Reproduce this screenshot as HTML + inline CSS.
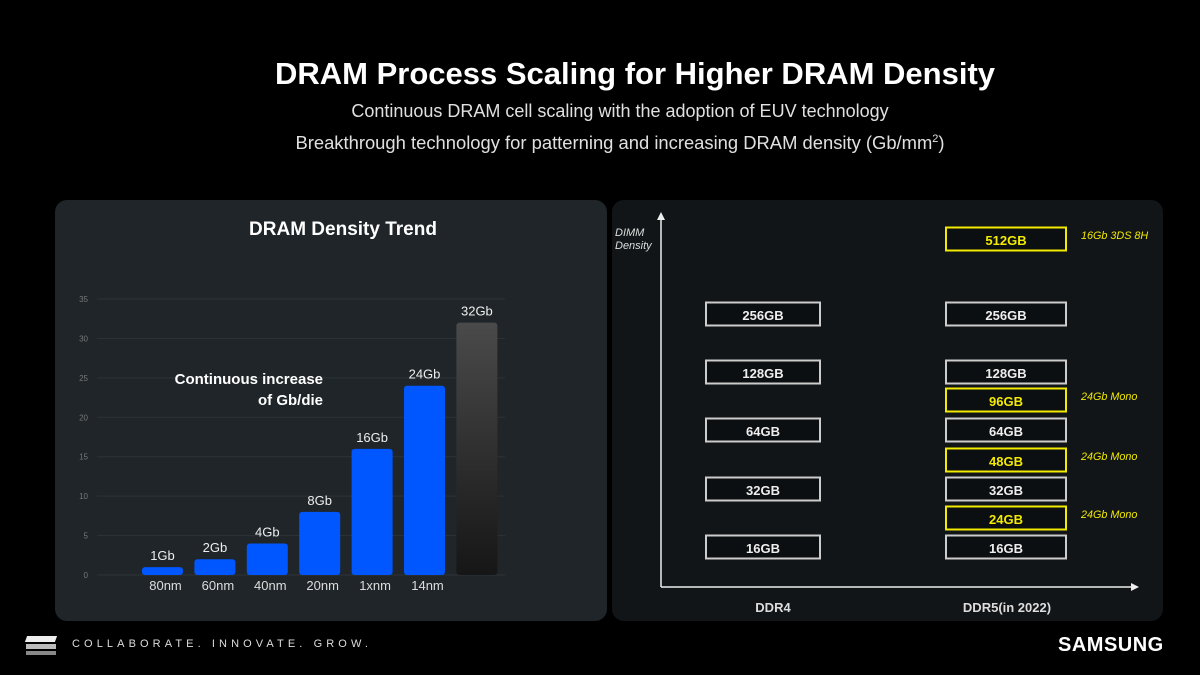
<!DOCTYPE html>
<html><head><meta charset="utf-8"><style>
html,body{margin:0;padding:0;background:#000;}
body{width:1200px;height:675px;position:relative;overflow:hidden;font-family:"Liberation Sans",sans-serif;color:#fff;}
.abs{position:absolute;}
</style></head><body>
<div class="abs" style="left:0;width:1270px;top:56px;text-align:center;font-size:31px;font-weight:bold;">DRAM Process Scaling for Higher DRAM Density</div>
<div class="abs" style="left:0;width:1240px;top:101px;text-align:center;font-size:18px;color:#e0e0e0;">Continuous DRAM cell scaling with the adoption of EUV technology</div>
<div class="abs" style="left:0;width:1240px;top:132px;text-align:center;font-size:18.4px;color:#e0e0e0;">Breakthrough technology for patterning and increasing DRAM density (Gb/mm<sup style="font-size:11px">2</sup>)</div>

<div class="abs" style="left:55px;top:200px;width:552px;height:421px;background:#1f2528;border-radius:12px;"></div>
<div class="abs" style="left:612px;top:200px;width:551px;height:421px;background:#111518;border-radius:12px;"></div>
<div class="abs" style="left:200px;width:286px;top:219px;text-align:center;font-size:19px;font-weight:bold;">DRAM Density Trend</div>

<svg class="abs" style="left:0;top:0" width="1200" height="675" id="chart">
<defs><linearGradient id="gg" x1="0" y1="0" x2="0" y2="1"><stop offset="0" stop-color="#4a4a4a"/><stop offset="1" stop-color="#161616"/></linearGradient></defs>
</svg>

<div class="abs" style="left:150px;width:173px;top:369px;text-align:right;font-size:15px;font-weight:bold;line-height:21px;">Continuous increase<br>of Gb/die</div>

<div class="abs" style="left:26px;top:636px;width:30px;height:20px;">
<div style="position:absolute;left:0;top:0;width:30px;height:6px;background:#eee;transform:skewX(-20deg);"></div>
<div style="position:absolute;left:0;top:8px;width:30px;height:5px;background:#bbb;"></div>
<div style="position:absolute;left:0;top:15px;width:30px;height:4px;background:#888;"></div>
</div>
<div class="abs" style="left:72px;top:638px;font-size:11px;letter-spacing:4.1px;color:#ddd;">COLLABORATE. INNOVATE. GROW.</div>
<div class="abs" style="left:1058px;top:634px;font-size:20px;font-weight:bold;letter-spacing:0.5px;">SAMSUNG</div>

<script>
const categories=["80nm","60nm","40nm","20nm","1xnm","14nm",""];
const values=[1,2,4,8,16,24,32];
const valueLabels=["1Gb","2Gb","4Gb","8Gb","16Gb","24Gb","32Gb"];
const yTicks=[0,5,10,15,20,25,30,35];
const ddr4=["16GB","32GB","64GB","128GB","256GB"];
const ddr4Vals=[16,32,64,128,256];
const ddr5=["16GB","24GB","32GB","48GB","64GB","96GB","128GB","256GB","512GB"];
const ddr5Vals=[16,24,32,48,64,96,128,256,512];
const ddr5New=[false,true,false,true,false,true,false,false,true];
const ddr5Notes=["","24Gb Mono","","24Gb Mono","","24Gb Mono","","","16Gb 3DS 8H"];

const svg=document.getElementById('chart');
const NS='http://www.w3.org/2000/svg';
function mk(t,a,txt){const e=document.createElementNS(NS,t);for(const k in a)e.setAttribute(k,a[k]);if(txt!==undefined)e.textContent=txt;svg.appendChild(e);return e;}
const y=v=>575-v*(276/35);
const x=i=>142+i*52.4;
const bw=41;
yTicks.forEach(t=>{
  const l=mk('line',{x1:97,x2:505,y1:y(t),y2:y(t),stroke:'#2c3438','stroke-width':1});
  
  
  const tx=mk('text',{x:88,y:y(t)+3,'text-anchor':'end','font-size':8,fill:'#777','font-family':'Liberation Sans'},t);
  
  
});
values.forEach((v,i)=>{
  const last=i===values.length-1;
  const r=mk('rect',{x:x(i),y:y(v),width:bw,height:y(0)-y(v),rx:3,fill:last?'url(#gg)':'#0057ff'});
  
  
  const lb=mk('text',{x:x(i)+bw/2,y:y(v)-7,'text-anchor':'middle','font-size':13,fill:'#eee','font-family':'Liberation Sans'},valueLabels[i]);
  
  
  if(categories[i]){
    const c=mk('text',{x:x(i)+bw/2+3,y:590,'text-anchor':'middle','font-size':13,fill:'#ddd','font-family':'Liberation Sans'},categories[i]);
    
    
  }
});
// right chart
const lvl=[16,24,32,48,64,96,128,256,512];
const lvlY=[547,518,489,460,430,400,372,314,239];
function yr(v){let i=lvl.indexOf(v);if(i>=0)return lvlY[i];return 547-Math.log2(v/16)*58;}
const ax=mk('path',{d:'M661,587 V216 M661,587 H1133',stroke:'#eee','stroke-width':1.5,fill:'none'});


const ar=mk('path',{d:'M657,220 L661,212 L665,220 Z M1131,583 L1139,587 L1131,591 Z',fill:'#eee'});


const yl=mk('text',{x:615,y:236,'font-size':11,'font-style':'italic',fill:'#ddd','font-family':'Liberation Sans'},'DIMM');


const yl2=mk('text',{x:615,y:249,'font-size':11,'font-style':'italic',fill:'#ddd','font-family':'Liberation Sans'},'Density');


function box(cx,w,v,label,yellow,note){
  const cy=yr(v);
  const r=mk('rect',{x:cx,y:cy-11.5,width:w,height:23,fill:'#0c0f11',stroke:yellow?'#f2ea00':'#ccc','stroke-width':2});
  
  
  const t=mk('text',{x:cx+w/2,y:cy+6,'text-anchor':'middle','font-size':13,'font-weight':'bold',fill:yellow?'#f2ea00':'#eee','font-family':'Liberation Sans'},label);
  
  
  if(note){const n=mk('text',{x:1081,y:cy,'font-size':10.8,'font-style':'italic',fill:'#f2ea00','font-family':'Liberation Sans'},note);
    
    }
}
ddr4.forEach((l,i)=>box(706,114,ddr4Vals[i],l,false,''));
ddr5.forEach((l,i)=>box(946,120,ddr5Vals[i],l,ddr5New[i],ddr5Notes[i]));
const c1=mk('text',{x:773,y:612,'text-anchor':'middle','font-size':13,'font-weight':'bold',fill:'#ddd','font-family':'Liberation Sans'},'DDR4');


const c2=mk('text',{x:1007,y:612,'text-anchor':'middle','font-size':13,'font-weight':'bold',fill:'#ddd','font-family':'Liberation Sans'},'DDR5(in 2022)');


</script>
</body></html>
